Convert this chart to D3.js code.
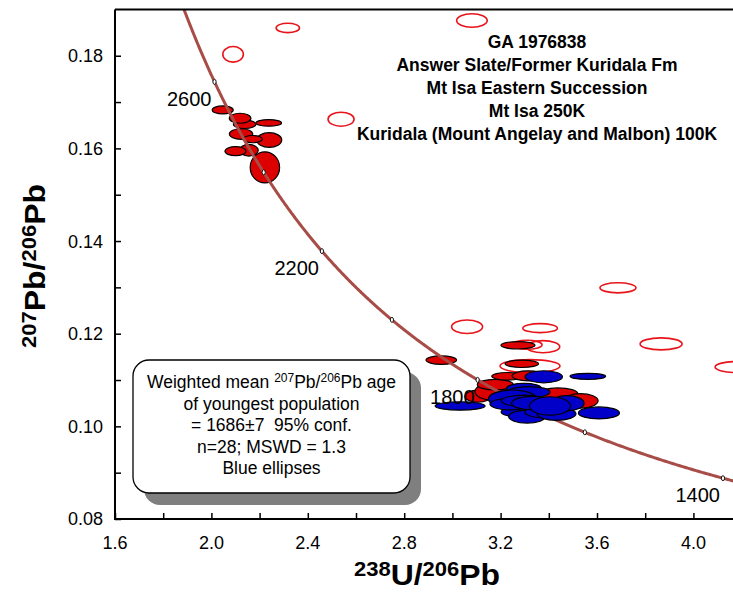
<!DOCTYPE html>
<html>
<head>
<meta charset="utf-8">
<script src="https://cdn.jsdelivr.net/npm/d3@7"></script>
<style>
  html, body { margin: 0; padding: 0; background: #ffffff; }
  svg { display: block; font-family: "Liberation Sans", Arial, Helvetica, sans-serif; }
</style>
</head>
<body>
<svg id="chart" width="733" height="599"></svg>
<script>
// Tera-Wasserburg plot of zircon U-Pb analyses.
// Each analysis: [238U/206Pb, 207Pb/206Pb, x half-axis, y half-axis] (error ellipse)

// Analyses excluded from interpretation (open ellipses)
const excludedAnalyses = [
  [2.090, 0.1803, 0.0427, 0.00168],
  [2.317, 0.1860, 0.0485, 0.00101],
  [3.081, 0.1876, 0.0635, 0.00145],
  [2.538, 0.1663, 0.0540, 0.00151],
  [3.687, 0.1299, 0.0747, 0.00108],
  [3.866, 0.1178, 0.0871, 0.00130],
  [4.181, 0.1128, 0.0910, 0.00119],
  [3.061, 0.1215, 0.0643, 0.00145],
  [3.364, 0.1212, 0.0718, 0.00097],
  [3.376, 0.1172, 0.0693, 0.00130],
  [3.310, 0.1176, 0.0620, 0.00097],
  [3.322, 0.1130, 0.1245, 0.00140]
];

// Older detrital population (filled red)
const olderAnalyses = [
  [2.047, 0.1683, 0.0436, 0.00086],
  [2.138, 0.1652, 0.0469, 0.00091],
  [2.119, 0.1665, 0.0448, 0.00108],
  [2.238, 0.1655, 0.0531, 0.00071],
  [2.123, 0.1631, 0.0485, 0.00114],
  [2.240, 0.1618, 0.0519, 0.00158],
  [2.171, 0.1620, 0.0407, 0.00078],
  [2.155, 0.1596, 0.0394, 0.00125],
  [2.100, 0.1594, 0.0436, 0.00097],
  [2.222, 0.1559, 0.0610, 0.00335],
  [2.954, 0.1143, 0.0635, 0.00091],
  [3.272, 0.1175, 0.0705, 0.00080],
  [3.288, 0.1135, 0.0693, 0.00080],
  [3.106, 0.1065, 0.0540, 0.00130],
  [3.160, 0.1075, 0.0664, 0.00179],
  [3.178, 0.1090, 0.0747, 0.00114],
  [3.229, 0.1108, 0.0656, 0.00082],
  [3.314, 0.1109, 0.0664, 0.00108],
  [3.438, 0.1070, 0.0830, 0.00130],
  [3.532, 0.1055, 0.0726, 0.00155]
];

// Youngest population used for the weighted mean age (filled blue)
const youngestAnalyses = [
  [3.379, 0.1107, 0.0776, 0.00130],
  [3.562, 0.1108, 0.0739, 0.00065],
  [3.032, 0.1044, 0.1037, 0.00091],
  [3.297, 0.1082, 0.0726, 0.00108],
  [3.318, 0.1074, 0.0871, 0.00119],
  [3.608, 0.1029, 0.0851, 0.00130],
  [3.281, 0.1031, 0.0788, 0.00108],
  [3.310, 0.1021, 0.0768, 0.00140],
  [3.384, 0.1031, 0.0830, 0.00130],
  [3.432, 0.1027, 0.0809, 0.00140],
  [3.249, 0.1059, 0.0996, 0.00194],
  [3.242, 0.1048, 0.0863, 0.00125],
  [3.297, 0.1055, 0.0934, 0.00125],
  [3.332, 0.1050, 0.0863, 0.00145],
  [3.476, 0.1050, 0.0705, 0.00162],
  [3.405, 0.1044, 0.0851, 0.00199]
];

// Concordia age marks (Ma)
const concordiaTickAges = [1400, 1600, 1800, 2000, 2200, 2400, 2600];
const concordiaLabelAges = [1400, 1800, 2200, 2600];

// Axis ticks
const xMajorTicks = [1.6, 2.0, 2.4, 2.8, 3.2, 3.6, 4.0];
const xMinorTicks = [1.8, 2.2, 2.6, 3.0, 3.4, 3.8];
const yMajorTicks = [0.08, 0.10, 0.12, 0.14, 0.16, 0.18];
const yMinorTicks = [0.09, 0.11, 0.13, 0.15, 0.17];

// Sample description
const titleLines = [
  "GA 1976838",
  "Answer Slate/Former Kuridala Fm",
  "Mt Isa Eastern Succession",
  "Mt Isa 250K",
  "Kuridala (Mount Angelay and Malbon) 100K"
];

// Age summary (segments: [text, superscript?])
const summaryLines = [
  [["Weighted mean ", false], ["207", true], ["Pb/", false], ["206", true], ["Pb age", false]],
  [["of youngest population", false]],
  [["= 1686±7\u00A0 95% conf.", false]],
  [["n=28; MSWD = 1.3", false]],
  [["Blue ellipses", false]]
];

// Decay constants (per Ma) and present-day 238U/235U
const LAMBDA238 = 1.55125e-4;
const LAMBDA235 = 9.8485e-4;
const U_RATIO = 137.88;
function concordia(t) {
  const e8 = Math.exp(LAMBDA238 * t) - 1;
  const e5 = Math.exp(LAMBDA235 * t) - 1;
  return [1 / e8, e5 / e8 / U_RATIO];
}

const svg = d3.select("#chart");
const W = 733, H = 599;
const plot = { left: 115, right: 733, top: 9.4, bottom: 519 };

const x = d3.scaleLinear().domain([1.6, 4.1643]).range([plot.left, plot.right]);
const y = d3.scaleLinear().domain([0.08, 0.19]).range([plot.bottom, plot.top]);

svg.append("rect").attr("width", W).attr("height", H).attr("fill", "#ffffff");

svg.append("defs").append("clipPath").attr("id", "plotClip")
  .append("rect")
  .attr("x", plot.left).attr("y", plot.top)
  .attr("width", plot.right - plot.left + 5).attr("height", plot.bottom - plot.top);

const inner = svg.append("g").attr("clip-path", "url(#plotClip)");

function drawEllipses(g, data, fill, stroke, sw) {
  g.selectAll(null).data(data).enter().append("ellipse")
    .attr("cx", d => x(d[0]))
    .attr("cy", d => y(d[1]))
    .attr("rx", d => x(d[0] + d[2]) - x(d[0]))
    .attr("ry", d => y(d[1]) - y(d[1] + d[3]))
    .attr("fill", fill)
    .attr("stroke", stroke)
    .attr("stroke-width", sw);
}

// Excluded analyses
drawEllipses(inner.append("g"), excludedAnalyses, "none", "#e8141b", 1.6);
// Older population
drawEllipses(inner.append("g"), olderAnalyses, "#dd0000", "#000000", 1.2);

// Concordia curve
const curveAges = d3.range(1300, 2850, 2);
const line = d3.line().x(t => x(concordia(t)[0])).y(t => y(concordia(t)[1]));
inner.append("path")
  .datum(curveAges)
  .attr("d", line)
  .attr("fill", "none")
  .attr("stroke", "#a84c47")
  .attr("stroke-width", 3);

// Youngest population
drawEllipses(inner.append("g"), youngestAnalyses, "#0000c8", "#000000", 1.2);

// Concordia age marks
inner.append("g").selectAll(null).data(concordiaTickAges).enter().append("ellipse")
  .attr("cx", t => x(concordia(t)[0]))
  .attr("cy", t => y(concordia(t)[1]))
  .attr("rx", 1.6).attr("ry", 2.5)
  .attr("fill", "#ffffff").attr("stroke", "#000000").attr("stroke-width", 0.9);

// Concordia age labels
svg.append("g").selectAll(null).data(concordiaLabelAges).enter().append("text")
  .attr("x", t => x(concordia(t)[0]) - 3)
  .attr("y", t => y(concordia(t)[1]) + 24)
  .attr("text-anchor", "end")
  .attr("font-size", 20)
  .attr("fill", "#000000")
  .text(t => t);

// Axes frame
const frame = svg.append("g").attr("stroke", "#000000").attr("stroke-width", 2).attr("fill", "none");
frame.append("line").attr("x1", plot.left).attr("x2", plot.right).attr("y1", plot.top).attr("y2", plot.top);
frame.append("line").attr("x1", plot.left).attr("x2", plot.left).attr("y1", plot.top).attr("y2", plot.bottom);
frame.append("line").attr("x1", plot.left - 1).attr("x2", plot.right).attr("y1", plot.bottom).attr("y2", plot.bottom);

// X axis ticks (inward)
const xAxis = d3.axisBottom(x).tickValues(xMajorTicks.concat(xMinorTicks))
  .tickSize(-6).tickPadding(0).tickFormat("");
const gx = svg.append("g").attr("transform", `translate(0,${plot.bottom})`).call(xAxis);
gx.select(".domain").remove();
gx.selectAll(".tick line").attr("stroke", "#000").attr("stroke-width", 1.5);

svg.append("g").selectAll(null).data(xMajorTicks).enter().append("text")
  .attr("x", d => x(d)).attr("y", 549)
  .attr("text-anchor", "middle").attr("font-size", 18).attr("fill", "#000")
  .text(d => d3.format(".1f")(d));

// Y axis ticks (inward)
const yAxis = d3.axisLeft(y).tickValues(yMajorTicks.concat(yMinorTicks))
  .tickSize(-6).tickPadding(0).tickFormat("");
const gy = svg.append("g").attr("transform", `translate(${plot.left},0)`).call(yAxis);
gy.select(".domain").remove();
gy.selectAll(".tick line").attr("stroke", "#000").attr("stroke-width", 1.5);

svg.append("g").selectAll(null).data(yMajorTicks).enter().append("text")
  .attr("x", 103).attr("y", d => y(d)).attr("dy", "0.36em")
  .attr("text-anchor", "end").attr("font-size", 18).attr("fill", "#000")
  .text(d => d3.format(".2f")(d));

// Axis titles with superscript isotope masses
function isotopeTitle(g, parts, mainSize, supSize, rise) {
  const t = g.append("text").attr("text-anchor", "middle").attr("font-weight", "bold").attr("fill", "#000");
  let raised = false;
  parts.forEach(([s, sup]) => {
    const ts = t.append("tspan").attr("font-size", sup ? supSize : mainSize).text(s);
    if (sup && !raised) { ts.attr("dy", -rise); raised = true; }
    else if (!sup && raised) { ts.attr("dy", rise); raised = false; }
  });
  return t;
}
const xTitle = svg.append("g").attr("transform", "translate(427,585) scale(1.1,1)");
isotopeTitle(xTitle, [["238", true], ["U/", false], ["206", true], ["Pb", false]], 29, 20, 9);

const yTitle = svg.append("g").attr("transform", "translate(45,266) rotate(-90) scale(1.1,1)");
isotopeTitle(yTitle, [["207", true], ["Pb/", false], ["206", true], ["Pb", false]], 29, 20, 9);

// Sample description block
svg.append("g").selectAll(null).data(titleLines).enter().append("text")
  .attr("x", 537).attr("y", (d, i) => 47.7 + i * 23.1)
  .attr("text-anchor", "middle").attr("font-weight", "bold").attr("font-size", 17.5).attr("fill", "#000")
  .text(d => d);

// Summary box with drop shadow
const box = { x: 133, y: 360, w: 277, h: 133, r: 16 };
svg.append("rect")
  .attr("x", box.x + 11).attr("y", box.y + 12).attr("width", box.w).attr("height", box.h)
  .attr("rx", box.r).attr("fill", "#7f7f7f");
svg.append("rect")
  .attr("x", box.x).attr("y", box.y).attr("width", box.w).attr("height", box.h)
  .attr("rx", box.r).attr("fill", "#ffffff").attr("stroke", "#000").attr("stroke-width", 1.3);

const summary = svg.append("g");
summaryLines.forEach((segs, i) => {
  const t = summary.append("text")
    .attr("x", box.x + box.w / 2).attr("y", 388 + i * 21.5)
    .attr("text-anchor", "middle").attr("font-size", 17.5).attr("fill", "#000");
  let raised = false;
  segs.forEach(([s, sup]) => {
    const ts = t.append("tspan").attr("font-size", sup ? 12 : 17.5).text(s);
    if (sup && !raised) { ts.attr("dy", -6.5); raised = true; }
    else if (!sup && raised) { ts.attr("dy", 6.5); raised = false; }
  });
});
</script>
</body>
</html>
